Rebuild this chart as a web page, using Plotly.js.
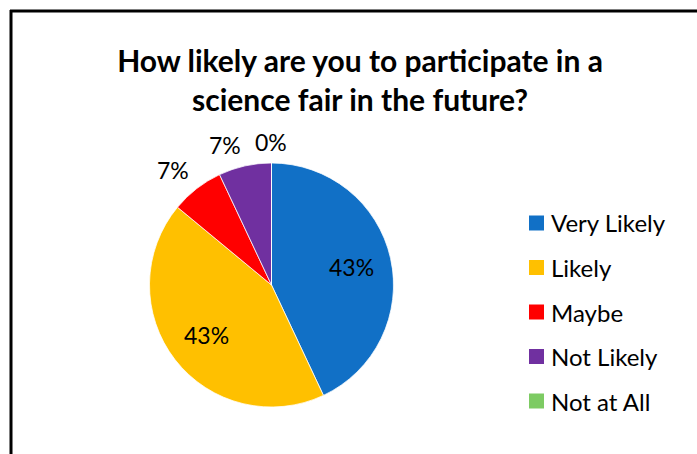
<!DOCTYPE html>
<html><head><meta charset="utf-8">
<script src="https://cdn.plot.ly/plotly-3.0.1.min.js"></script>
<style>html,body{margin:0;padding:0;background:#fff;}#chart{width:697px;height:454px;}</style>
</head><body><div id="chart"></div>
<script>
const categories = ["Very Likely", "Likely", "Maybe", "Not Likely", "Not at All"];
const percentValues = [43, 43, 7, 7, 0];
const sliceColors = ["#1170C6", "#FFC000", "#FF0000", "#7030A0", "#7DCB63"];
const labelPlacement = ["inside", "inside", "outside", "outside", "outside"];
const chartTitle = "How likely are you to participate in a<br>science fair in the future?";

const W = 697, H = 454;
const FONT = "Lato, 'Open Sans', sans-serif";
const px = x => x / W;
const py = y => 1 - y / H;

// pie geometry (pixels)
const pieCx = 271.5, pieCy = 285, pieR = 122;

const trace = {
  type: "pie",
  labels: categories,
  values: percentValues,
  sort: false,
  direction: "clockwise",
  rotation: 0,
  marker: { colors: sliceColors, line: { color: "#ffffff", width: 0.75 } },
  textinfo: "none",
  domain: { x: [px(pieCx - pieR), px(pieCx + pieR)], y: [py(pieCy + pieR), py(pieCy - pieR)] },
  showlegend: false,
  hoverinfo: "label+percent"
};

const shapes = [
  { type: "line", xref: "paper", yref: "paper", x0: px(10), x1: px(697), y0: py(11), y1: py(11), line: { color: "#000", width: 3 } },
  { type: "line", xref: "paper", yref: "paper", x0: px(11), x1: px(11), y0: py(10), y1: py(454), line: { color: "#000", width: 3 } }
];
const annotations = [];

// data labels, placed from the slice mid-angles
const total = percentValues.reduce((a, b) => a + b, 0);
const halfW = 17, halfH = 10, outGap = 11;
const sgn = v => (Math.abs(v) < 1e-6 ? 0 : Math.sign(v));
let cum = 0;
percentValues.forEach((v, i) => {
  const mid = (cum + v / 2) / total * 2 * Math.PI;
  cum += v;
  const s = Math.sin(mid), c = Math.cos(mid);
  let x, y;
  if (labelPlacement[i] === "inside") {
    x = pieCx + 0.67 * pieR * s;
    y = pieCy - 0.67 * pieR * c;
  } else {
    x = pieCx + (pieR + outGap) * s + sgn(s) * halfW;
    y = pieCy - (pieR + outGap) * c - sgn(c) * halfH;
  }
  annotations.push({ xref: "paper", yref: "paper", x: px(x), y: py(y), xanchor: "center", yanchor: "middle",
    showarrow: false, text: v + "%", font: { family: FONT, size: 23, color: "#000" } });
});

// legend
const rowY0 = 223, rowGap = 44.5;
categories.forEach((c, i) => {
  const yc = rowY0 + i * rowGap;
  shapes.push({ type: "rect", xref: "paper", yref: "paper", x0: px(529), x1: px(544), y0: py(yc + 7.5), y1: py(yc - 7.5), fillcolor: sliceColors[i], line: { width: 0 } });
  annotations.push({ xref: "paper", yref: "paper", x: px(549), y: py(yc), xanchor: "left", yanchor: "middle", showarrow: false, text: c, font: { family: FONT, size: 24, color: "#000" } });
});

const layout = {
  width: W, height: H,
  margin: { l: 0, r: 0, t: 0, b: 0 },
  paper_bgcolor: "#fff",
  title: { text: chartTitle, x: px(360), xanchor: "center", y: py(72), yanchor: "middle", font: { family: FONT, size: 30, color: "#000", weight: "bold" } },
  shapes: shapes,
  annotations: annotations,
  showlegend: false
};
Plotly.newPlot("chart", [trace], layout, { displayModeBar: false, staticPlot: true });
</script></body></html>
